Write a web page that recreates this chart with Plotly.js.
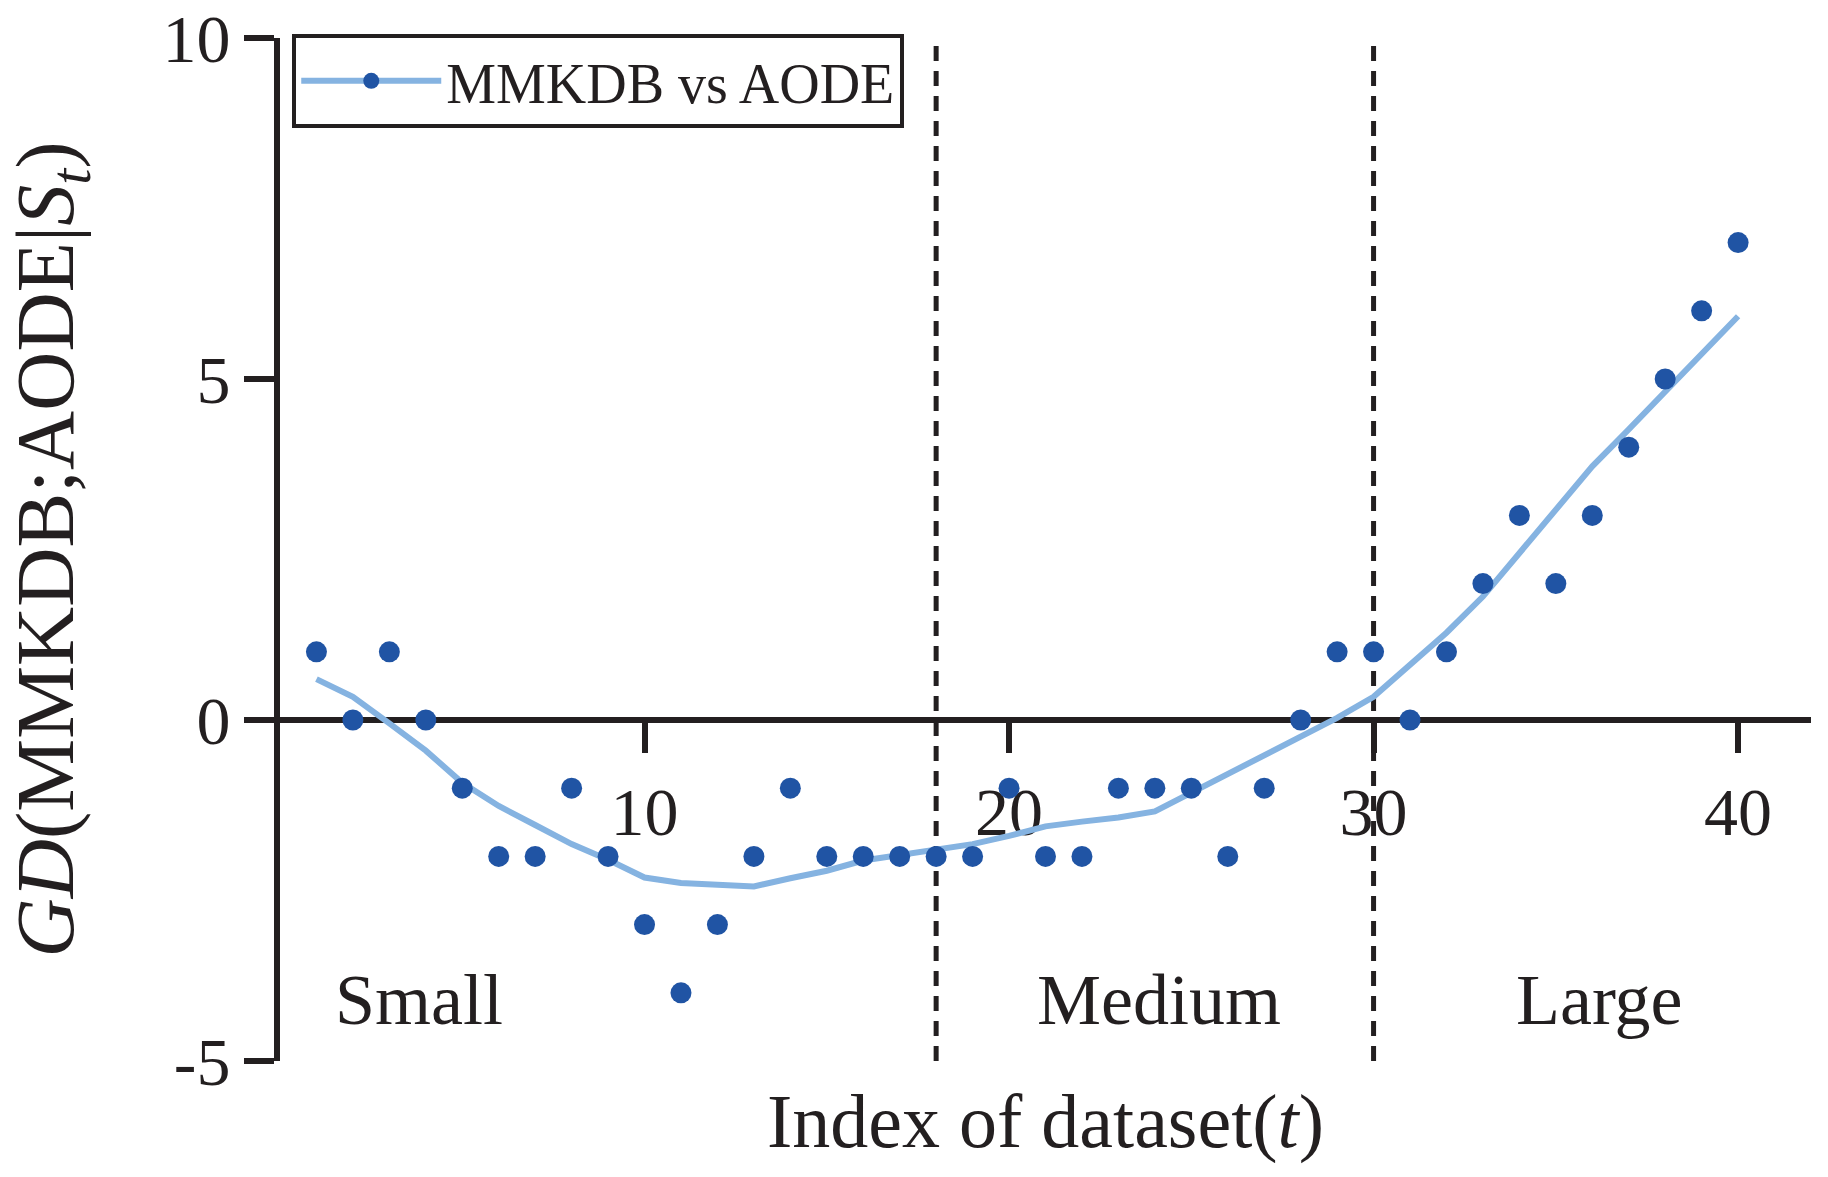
<!DOCTYPE html>
<html>
<head>
<meta charset="utf-8">
<script src="https://cdn.plot.ly/plotly-3.0.1.min.js"></script>
<style>
  html, body { margin: 0; padding: 0; background: #ffffff; }
  #chart { width: 1828px; height: 1177px; }
</style>
</head>
<body>
<div id="chart"></div>
<script>
// ---- data ----
const datasetIndex = [1,2,3,4,5,6,7,8,9,10,11,12,13,14,15,16,17,18,19,20,
                      21,22,23,24,25,26,27,28,29,30,31,32,33,34,35,36,37,38,39,40];
const gdValues = [1,0,1,0,-1,-2,-2,-1,-2,-3,-4,-3,-2,-1,-2,-2,-2,-2,-2,-1,
                  -2,-2,-1,-1,-1,-2,-1,0,1,1,0,1,2,3,2,3,4,5,6,7];
const trendValues = [0.60,0.34,-0.05,-0.45,-0.92,-1.26,-1.54,-1.82,-2.05,-2.31,
                     -2.39,-2.41,-2.44,-2.32,-2.21,-2.06,-1.98,-1.92,-1.82,-1.70,
                     -1.56,-1.49,-1.43,-1.34,-1.07,-0.80,-0.53,-0.24,0.03,0.34,
                     0.81,1.28,1.81,2.45,3.08,3.72,4.26,4.82,5.38,5.92];
const seriesName = 'MMKDB vs AODE';
const xTickVals = [10,20,30,40];
const yTickVals = [-5,0,5,10];
const yTickText = ['-5','0','5','10'];
const regionBounds = [18,30];
const regionLabels = ['Small','Medium','Large'];
const regionLabelX = [3.8,24.1,36.2];
const regionLabelY = -4.1;
const xRange = [0,42];
const yRange = [-5,10];

const ink = '#231f20';
const dotColor = '#2054a4';
const lineColor = '#85b3e1';
const FONT = '"Liberation Serif", "Times New Roman", serif';

const traces = [
  { x: datasetIndex, y: trendValues, type: 'scatter', mode: 'lines',
    line: { color: lineColor, width: 6 }, showlegend: false, hoverinfo: 'skip' },
  { x: datasetIndex, y: gdValues, type: 'scatter', mode: 'markers', xaxis: 'x2', yaxis: 'y',
    marker: { color: dotColor, size: 21 }, showlegend: false },
  { x: [null], y: [null], type: 'scatter', mode: 'lines+markers', name: seriesName,
    line: { color: lineColor, width: 6 }, marker: { color: dotColor, size: 20 } }
];

const shapes = regionBounds.map(b => ({
  type: 'line', xref: 'x', yref: 'y', x0: b, x1: b, y0: yRange[0], y1: yRange[1],
  line: { color: ink, width: 5, dash: '15px,10px' }, layer: 'below'
}));

const annotations = regionLabels.map((t, i) => ({
  text: t, xref: 'x', yref: 'y', x: regionLabelX[i], y: regionLabelY,
  showarrow: false, xanchor: 'center', yanchor: 'middle',
  font: { family: FONT, size: 72, color: ink }
}));

const layout = {
  width: 1828, height: 1177,
  margin: { l: 280, r: 17, t: 38, b: 116 },
  paper_bgcolor: '#ffffff', plot_bgcolor: '#ffffff',
  font: { family: FONT, color: ink },
  showlegend: true,
  legend: {
    x: 0.008, y: 1.004, xanchor: 'left', yanchor: 'top',
    bgcolor: '#ffffff', bordercolor: ink, borderwidth: 4,
    font: { family: FONT, size: 56, color: ink },
    itemwidth: 140
  },
  xaxis: {
    range: xRange, anchor: 'free', position: (0 - yRange[0]) / (yRange[1] - yRange[0]),
    showline: true, linecolor: ink, linewidth: 6,
    ticks: 'outside', ticklen: 30, tickwidth: 6, tickcolor: ink,
    tickvals: xTickVals, tickfont: { family: FONT, size: 68, color: ink },
    showgrid: false, zeroline: false, layer: 'below traces'
  },
  xaxis2: {
    range: xRange, overlaying: 'x', anchor: 'y', side: 'bottom',
    showline: false, showticklabels: false, ticks: '', showgrid: false, zeroline: false,
    title: { text: 'Index of dataset(<i>t</i>)', font: { family: FONT, size: 76, color: ink }, standoff: 32 }
  },
  yaxis: {
    range: yRange, showline: true, linecolor: ink, linewidth: 6,
    ticks: 'outside', ticklen: 30, tickwidth: 6, tickcolor: ink,
    tickvals: yTickVals, ticktext: yTickText,
    tickfont: { family: FONT, size: 68, color: ink },
    showgrid: false, zeroline: false, layer: 'below traces',
    title: { text: '<i>GD</i>(MMKDB;AODE|<i>S</i><sub><i>t</i></sub>)',
             font: { family: FONT, size: 82, color: ink }, standoff: 64 }
  },
  shapes: shapes,
  annotations: annotations
};

Plotly.newPlot('chart', traces, layout, { staticPlot: true, displayModeBar: false });
</script>
</body>
</html>
